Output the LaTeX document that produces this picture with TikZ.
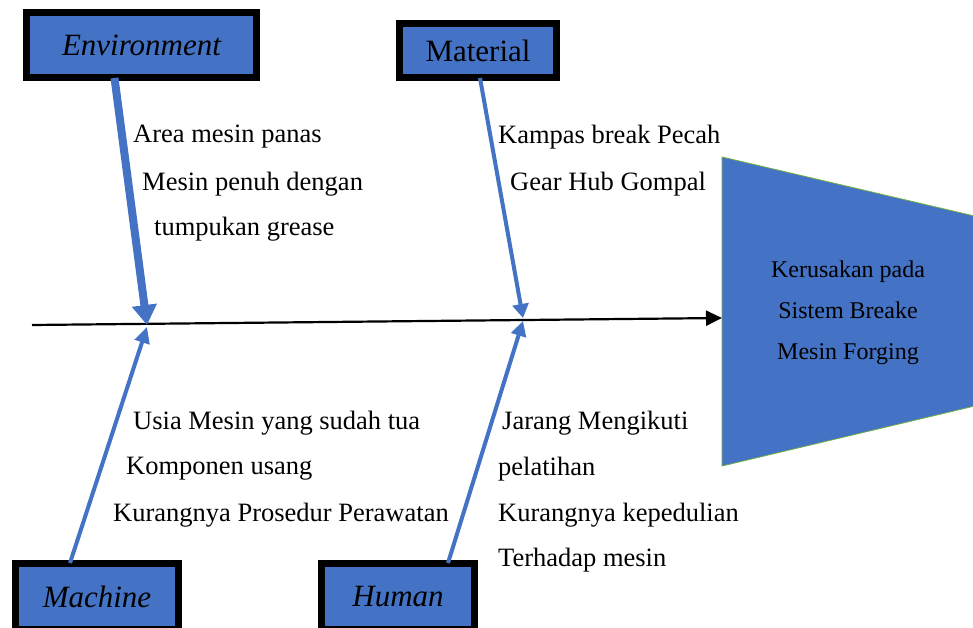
\documentclass[tikz,border=0pt]{standalone}
\usepackage{fontspec}
\setmainfont{Liberation Serif}
\usetikzlibrary{arrows.meta,calc}
\definecolor{blu}{HTML}{4472C4}
\definecolor{grn}{HTML}{70AD47}
\begin{document}
\begin{tikzpicture}[x=1pt,y=-1pt,
  lbl/.style={anchor=west,inner sep=0pt,font=\fontsize{26.5}{30}\selectfont},
  catbox/.style={draw=black,line width=7pt,fill=blu,inner sep=0pt,font=\fontsize{31}{36}\selectfont},
  bone/.style={draw=blu,line width=4pt,-{Triangle[width=15pt,length=16pt]},blu},
  bigbone/.style={draw=blu,line width=8pt,-{Triangle[width=24pt,length=20pt]},blu},
  spine/.style={draw=black,line width=2.2pt,-{Triangle[width=15pt,length=16pt]}}
]
\useasboundingbox (0,0) rectangle (973,628);
\clip (0,0) rectangle (973,628);
\fill[white] (0,0) rectangle (973,628);

% effect (head)
\draw[fill=blu,draw=grn,line width=0.8pt] (722,157) -- (1000,222) -- (1000,400) -- (722,466) -- cycle;
\node[align=center,inner sep=0pt,font=\fontsize{24}{41}\selectfont] (effect) at (848,313) {Kerusakan pada\\Sistem Breake\\Mesin Forging};
\coordinate (tail) at (32,325);
\coordinate (head) at (722,318);
\draw[spine] (tail) -- (head);

% category boxes
\node[catbox,minimum width=230pt,minimum height=65pt] (env) at (141.5,45) {\itshape Environment};
\node[catbox,minimum width=157pt,minimum height=54pt] (mat) at (478,50.5) {Material};
\node[catbox,minimum width=163pt,minimum height=66pt] (mac) at (97,596.5) {\itshape Machine};
\node[catbox,minimum width=153pt,minimum height=66pt] (hum) at (398,596.5) {\itshape Human};

% junctions on spine
\coordinate (j1) at (147,325);
\coordinate (j1b) at (147,327);
\coordinate (j2) at (523,318);
\coordinate (j2b) at (523,321);

\draw[bigbone] ($(env.south)+(-27,-3)$) -- (j1);
\draw[bone] ($(mac.north)+(-27,3)$) -- (j1b);
\draw[bone,-{Triangle[width=16pt,length=14pt]}] ($(mat.south)+(2,-3)$) -- (j2);
\draw[bone,-{Triangle[width=15pt,length=15pt]}] ($(hum.north)+(50,3)$) -- (j2b);

% cause labels
\node[lbl] (e1) at (133,137) {Area mesin panas};
\node[lbl] (e2) at (142,184) {Mesin penuh dengan};
\node[lbl] (e3) at (154,229) {tumpukan grease};
\node[lbl] (m1) at (498,137) {Kampas break Pecah};
\node[lbl] (m2) at (510,184) {Gear Hub Gompal};
\node[lbl] (c1) at (133,423) {Usia Mesin yang sudah tua};
\node[lbl] (c2) at (126,469) {Komponen usang};
\node[lbl] (c3) at (113,515) {Kurangnya Prosedur Perawatan};
\node[lbl] (h1) at (502,423) {Jarang Mengikuti};
\node[lbl] (h2) at (498,469) {pelatihan};
\node[lbl] (h3) at (498,515) {Kurangnya kepedulian};
\node[lbl] (h4) at (498,560) {Terhadap mesin};
\end{tikzpicture}
\end{document}
